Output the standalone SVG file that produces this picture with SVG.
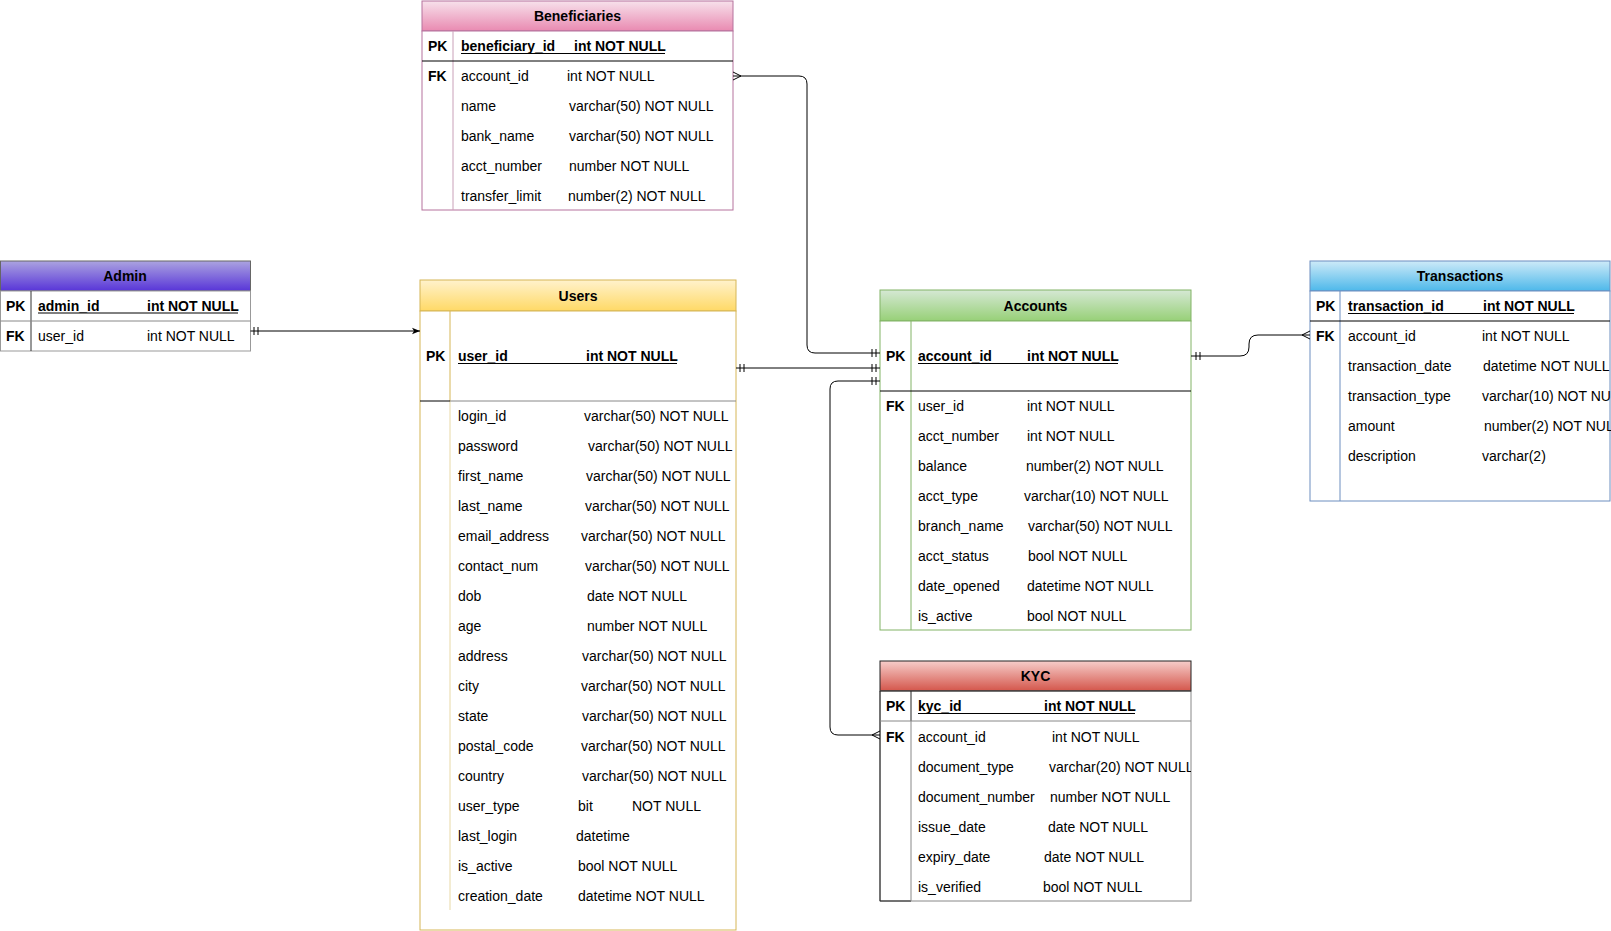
<svg xmlns="http://www.w3.org/2000/svg" width="1611" height="931" viewBox="0 0 1611 931">
<defs>
<style>
.t{font-family:"Liberation Sans",Arial,sans-serif;font-size:14px;fill:#000}
.b{font-weight:bold}
.ttl{font-weight:bold;text-anchor:middle}
.ul{stroke:#000;stroke-width:1}
.cn{fill:none;stroke:#000;stroke-width:1}
.blk{stroke:#000;stroke-width:1}
</style>
<linearGradient id="gBen" x1="0" y1="0" x2="0" y2="1"><stop offset="0" stop-color="#f7e1eb"/><stop offset="1" stop-color="#e98ab1"/></linearGradient>
<linearGradient id="gAdm" x1="0" y1="0" x2="0" y2="1"><stop offset="0" stop-color="#aba3e0"/><stop offset="1" stop-color="#5835d8"/></linearGradient>
<linearGradient id="gUsr" x1="0" y1="0" x2="0" y2="1"><stop offset="0" stop-color="#fff2cc"/><stop offset="1" stop-color="#ffd966"/></linearGradient>
<linearGradient id="gAcc" x1="0" y1="0" x2="0" y2="1"><stop offset="0" stop-color="#d5e8d4"/><stop offset="1" stop-color="#97d077"/></linearGradient>
<linearGradient id="gKyc" x1="0" y1="0" x2="0" y2="1"><stop offset="0" stop-color="#f6cdca"/><stop offset="1" stop-color="#d4564b"/></linearGradient>
<linearGradient id="gTrx" x1="0" y1="0" x2="0" y2="1"><stop offset="0" stop-color="#cdeaf8"/><stop offset="1" stop-color="#4db8ea"/></linearGradient>
<clipPath id="clipKyc"><rect x="880" y="660" width="311" height="241"/></clipPath>
<marker id="arrow" viewBox="0 0 10 10" refX="10" refY="5" markerWidth="8" markerHeight="8" markerUnits="userSpaceOnUse" orient="auto"><path d="M0 1 L10 5 L0 9 L2.5 5 Z" fill="#000"/></marker>
</defs>

<!-- Beneficiaries -->
<g id="beneficiaries">
<rect x="422" y="1" width="311" height="30" fill="url(#gBen)" stroke="#b5739d"/>
<rect x="422" y="31" width="311" height="179" fill="#fff" stroke="#b5739d"/>
<line x1="453" y1="31" x2="453" y2="210" stroke="#c9a0b8"/>
<line x1="422" y1="61" x2="733" y2="61" class="blk"/>
<text class="t ttl" x="577.5" y="20.5">Beneficiaries</text>
<text class="t b" x="428" y="51">PK</text>
<text class="t b" x="461" y="51">beneficiary_id</text>
<text class="t b" x="574" y="51">int NOT NULL</text>
<line class="ul" x1="461" y1="53.5" x2="665" y2="53.5"/>
<text class="t b" x="428" y="81">FK</text>
<text class="t" x="461" y="81">account_id</text><text class="t" x="567" y="81">int NOT NULL</text>
<text class="t" x="461" y="111">name</text><text class="t" x="569" y="111">varchar(50) NOT NULL</text>
<text class="t" x="461" y="141">bank_name</text><text class="t" x="569" y="141">varchar(50) NOT NULL</text>
<text class="t" x="461" y="171">acct_number</text><text class="t" x="569" y="171">number NOT NULL</text>
<text class="t" x="461" y="201">transfer_limit</text><text class="t" x="568" y="201">number(2) NOT NULL</text>
</g>

<!-- Admin -->
<g id="admin">
<rect x="0.5" y="261" width="250" height="30" fill="url(#gAdm)" stroke="#666"/>
<rect x="0.5" y="291" width="250" height="60" fill="#fff" stroke="#999"/>
<line x1="31" y1="291" x2="31" y2="351" stroke="#333"/>
<line x1="0.5" y1="321" x2="250.5" y2="321" stroke="#888"/>
<text class="t ttl" x="125" y="281">Admin</text>
<text class="t b" x="6" y="311">PK</text>
<text class="t b" x="38" y="311">admin_id</text>
<text class="t b" x="147" y="311">int NOT NULL</text>
<line class="ul" x1="38" y1="313" x2="238" y2="313"/>
<text class="t b" x="6" y="341">FK</text>
<text class="t" x="38" y="341">user_id</text><text class="t" x="147" y="341">int NOT NULL</text>
</g>

<!-- Users -->
<g id="users">
<rect x="420" y="280" width="316" height="31" fill="url(#gUsr)" stroke="#d6b656"/>
<rect x="420" y="311" width="316" height="619" fill="#fff" stroke="#d6b656"/>
<line x1="450" y1="311" x2="450" y2="401" stroke="#d6b656"/>
<line x1="450" y1="401" x2="450" y2="910" stroke="#e8d9a6"/>
<line x1="420" y1="401" x2="450" y2="401" class="blk"/>
<line x1="450" y1="401" x2="736" y2="401" stroke="#888"/>
<text class="t ttl" x="578" y="300.5">Users</text>
<text class="t b" x="426" y="361">PK</text>
<text class="t b" x="458" y="361">user_id</text>
<text class="t b" x="586" y="361">int NOT NULL</text>
<line class="ul" x1="458" y1="363.5" x2="677" y2="363.5"/>
<text class="t" x="458" y="421">login_id</text><text class="t" x="584" y="421">varchar(50) NOT NULL</text>
<text class="t" x="458" y="451">password</text><text class="t" x="588" y="451">varchar(50) NOT NULL</text>
<text class="t" x="458" y="481">first_name</text><text class="t" x="586" y="481">varchar(50) NOT NULL</text>
<text class="t" x="458" y="511">last_name</text><text class="t" x="585" y="511">varchar(50) NOT NULL</text>
<text class="t" x="458" y="541">email_address</text><text class="t" x="581" y="541">varchar(50) NOT NULL</text>
<text class="t" x="458" y="571">contact_num</text><text class="t" x="585" y="571">varchar(50) NOT NULL</text>
<text class="t" x="458" y="601">dob</text><text class="t" x="587" y="601">date NOT NULL</text>
<text class="t" x="458" y="631">age</text><text class="t" x="587" y="631">number NOT NULL</text>
<text class="t" x="458" y="661">address</text><text class="t" x="582" y="661">varchar(50) NOT NULL</text>
<text class="t" x="458" y="691">city</text><text class="t" x="581" y="691">varchar(50) NOT NULL</text>
<text class="t" x="458" y="721">state</text><text class="t" x="582" y="721">varchar(50) NOT NULL</text>
<text class="t" x="458" y="751">postal_code</text><text class="t" x="581" y="751">varchar(50) NOT NULL</text>
<text class="t" x="458" y="781">country</text><text class="t" x="582" y="781">varchar(50) NOT NULL</text>
<text class="t" x="458" y="811">user_type</text><text class="t" x="578" y="811">bit</text><text class="t" x="632" y="811">NOT NULL</text>
<text class="t" x="458" y="841">last_login</text><text class="t" x="576" y="841">datetime</text>
<text class="t" x="458" y="871">is_active</text><text class="t" x="578" y="871">bool NOT NULL</text>
<text class="t" x="458" y="901">creation_date</text><text class="t" x="578" y="901">datetime NOT NULL</text>
</g>

<!-- Accounts -->
<g id="accounts">
<rect x="880" y="290" width="311" height="31" fill="url(#gAcc)" stroke="#82b366"/>
<rect x="880" y="321" width="311" height="309" fill="#fff" stroke="#82b366"/>
<line x1="911" y1="321" x2="911" y2="630" stroke="#82b366"/>
<line x1="880" y1="391" x2="1191" y2="391" class="blk"/>
<text class="t ttl" x="1035.5" y="310.5">Accounts</text>
<text class="t b" x="886" y="361">PK</text>
<text class="t b" x="918" y="361">account_id</text>
<text class="t b" x="1027" y="361">int NOT NULL</text>
<line class="ul" x1="918" y1="363.5" x2="1118" y2="363.5"/>
<text class="t b" x="886" y="411">FK</text>
<text class="t" x="918" y="411">user_id</text><text class="t" x="1027" y="411">int NOT NULL</text>
<text class="t" x="918" y="441">acct_number</text><text class="t" x="1027" y="441">int NOT NULL</text>
<text class="t" x="918" y="471">balance</text><text class="t" x="1026" y="471">number(2) NOT NULL</text>
<text class="t" x="918" y="501">acct_type</text><text class="t" x="1024" y="501">varchar(10) NOT NULL</text>
<text class="t" x="918" y="531">branch_name</text><text class="t" x="1028" y="531">varchar(50) NOT NULL</text>
<text class="t" x="918" y="561">acct_status</text><text class="t" x="1028" y="561">bool NOT NULL</text>
<text class="t" x="918" y="591">date_opened</text><text class="t" x="1027" y="591">datetime NOT NULL</text>
<text class="t" x="918" y="621">is_active</text><text class="t" x="1027" y="621">bool NOT NULL</text>
</g>

<!-- KYC -->
<g id="kyc">
<rect x="880" y="661" width="311" height="30" fill="url(#gKyc)" stroke="#222"/>
<rect x="880" y="691" width="311" height="210" fill="#fff" stroke="#888"/>
<line x1="880" y1="691" x2="1191" y2="691" stroke="#222"/>
<line x1="880" y1="691" x2="880" y2="901" stroke="#222"/>
<line x1="880" y1="901" x2="911" y2="901" stroke="#222"/>
<line x1="911" y1="691" x2="911" y2="721" stroke="#222"/>
<line x1="911" y1="721" x2="911" y2="901" stroke="#888"/>
<line x1="880" y1="721" x2="1191" y2="721" stroke="#888"/>
<text class="t ttl" x="1035.5" y="680.5">KYC</text>
<g clip-path="url(#clipKyc)">
<text class="t b" x="886" y="711">PK</text>
<text class="t b" x="918" y="711">kyc_id</text>
<text class="t b" x="1044" y="711">int NOT NULL</text>
<line class="ul" x1="918" y1="713.5" x2="1135" y2="713.5"/>
<text class="t b" x="886" y="742">FK</text>
<text class="t" x="918" y="742">account_id</text><text class="t" x="1052" y="742">int NOT NULL</text>
<text class="t" x="918" y="772">document_type</text><text class="t" x="1049" y="772">varchar(20) NOT NULL</text>
<text class="t" x="918" y="802">document_number</text><text class="t" x="1050" y="802">number NOT NULL</text>
<text class="t" x="918" y="832">issue_date</text><text class="t" x="1048" y="832">date NOT NULL</text>
<text class="t" x="918" y="862">expiry_date</text><text class="t" x="1044" y="862">date NOT NULL</text>
<text class="t" x="918" y="892">is_verified</text><text class="t" x="1043" y="892">bool NOT NULL</text>
</g>
</g>

<!-- Transactions -->
<g id="transactions">
<rect x="1310" y="261" width="300" height="30" fill="url(#gTrx)" stroke="#6c8ebf"/>
<rect x="1310" y="291" width="300" height="210" fill="#fff" stroke="#6c8ebf"/>
<line x1="1340" y1="291" x2="1340" y2="501" stroke="#6c8ebf"/>
<line x1="1310" y1="321" x2="1610" y2="321" class="blk"/>
<text class="t ttl" x="1460" y="281">Transactions</text>
<text class="t b" x="1316" y="311">PK</text>
<text class="t b" x="1348" y="311">transaction_id</text>
<text class="t b" x="1483" y="311">int NOT NULL</text>
<line class="ul" x1="1348" y1="313.5" x2="1574" y2="313.5"/>
<text class="t b" x="1316" y="341">FK</text>
<text class="t" x="1348" y="341">account_id</text><text class="t" x="1482" y="341">int NOT NULL</text>
<text class="t" x="1348" y="371">transaction_date</text><text class="t" x="1483" y="371">datetime NOT NULL</text>
<text class="t" x="1348" y="401">transaction_type</text><text class="t" x="1482" y="401">varchar(10) NOT NULL</text>
<text class="t" x="1348" y="431">amount</text><text class="t" x="1484" y="431">number(2) NOT NULL</text>
<text class="t" x="1348" y="461">description</text><text class="t" x="1482" y="461">varchar(2)</text>
</g>

<!-- Connectors -->
<g id="connectors">
<!-- Admin -> Users -->
<path class="cn" d="M250.5 331 H420" marker-end="url(#arrow)"/>
<path class="cn" d="M254 327 V335 M258 327 V335"/>
<!-- Users -> Accounts -->
<path class="cn" d="M736 368 H880"/>
<path class="cn" d="M740 364 V372 M744 364 V372 M872 364 V372 M876 364 V372"/>
<!-- Beneficiaries -> Accounts -->
<path class="cn" d="M733 76 H799 Q807 76 807 84 V345 Q807 353 815 353 H880"/>
<path class="cn" d="M733 72 L741 76 L733 80"/>
<path class="cn" d="M872 349 V357 M876 349 V357"/>
<!-- KYC -> Accounts -->
<path class="cn" d="M880 381 H838 Q830 381 830 389 V727 Q830 735 838 735 H880"/>
<path class="cn" d="M872 377 V385 M876 377 V385"/>
<path class="cn" d="M880 731 L872 735 L880 739"/>
<!-- Accounts -> Transactions -->
<path class="cn" d="M1191 356 H1240 Q1249 356 1249 347 V344 Q1249 335 1258 335 H1310"/>
<path class="cn" d="M1196 352 V360 M1200 352 V360"/>
<path class="cn" d="M1310 331 L1302 335 L1310 339"/>
</g>
</svg>
